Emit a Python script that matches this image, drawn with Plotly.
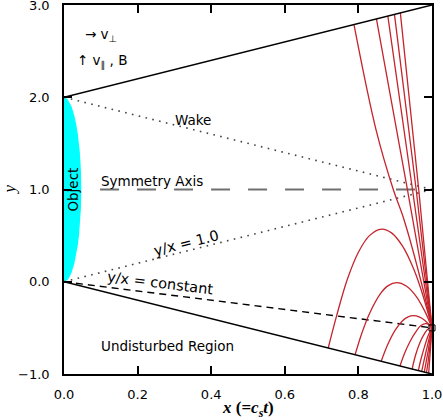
import plotly.graph_objects as go

# ---- reference lines (data coordinates) ----
upper_x = [0.0, 1.0]; upper_y = [2.0, 3.0]          # upper boundary
lower_x = [0.0, 1.0]; lower_y = [0.0, -1.0]         # lower boundary
wake_x = [0.0, 1.0]; wake_y = [2.0, 1.0]            # wake (dotted)
diag_x = [0.0, 1.0]; diag_y = [0.0, 1.0]            # y/x = 1.0 (dotted)
sym_x = [0.098, 1.0]; sym_y = [1.0, 1.0]            # symmetry axis
const_x = [0.0, 1.0]; const_y = [0.0, -0.5]         # y/x = constant
focus_x = [1.0]; focus_y = [-0.5]

# ---- object outline ----
object_y = [0.0, 0.02, 0.05, 0.1, 0.2, 0.3, 0.4, 0.5, 0.6, 0.8, 1.0,
            1.2, 1.4, 1.5, 1.6, 1.7, 1.8, 1.9, 1.95, 1.98, 2.0]
object_x = [0.0, 0.0094, 0.0147, 0.0205, 0.0282, 0.0336, 0.0376, 0.0407, 0.0431, 0.0461, 0.047,
            0.0461, 0.0431, 0.0407, 0.0376, 0.0336, 0.0282, 0.0205, 0.0147, 0.0094, 0.0]

# ---- trajectories from the upper boundary ----
u1_x = [0.788, 0.848, 0.895, 0.924, 0.976, 1.0]
u1_y = [2.788, 1.647, 0.997, 0.672, -0.087, -0.5]
u2_x = [0.849, 0.933, 1.0]; u2_y = [2.849, 1.003, -0.5]
u3_x = [0.880, 0.947, 1.0]; u3_y = [2.880, 0.997, -0.5]
u4_x = [0.898, 0.957, 1.0]; u4_y = [2.898, 0.997, -0.5]
u5_x = [0.914, 0.964, 1.0]; u5_y = [2.914, 0.997, -0.5]

# ---- trajectories from the lower boundary ----
a1_x = [0.718, 0.74, 0.77, 0.80, 0.83, 0.863, 0.89, 0.92, 0.95, 0.975, 1.0]
a1_y = [-0.718, -0.38, 0.027, 0.32, 0.50, 0.571, 0.53, 0.386, 0.14, -0.144, -0.5]
a2_x = [0.791, 0.81, 0.83, 0.86, 0.88, 0.904, 0.93, 0.955, 0.98, 1.0]
a2_y = [-0.791, -0.55, -0.346, -0.129, -0.045, -0.01, -0.046, -0.148, -0.316, -0.5]
a3_x = [0.862, 0.88, 0.90, 0.92, 0.935, 0.95, 0.965, 0.98, 1.0]
a3_y = [-0.862, -0.678, -0.524, -0.423, -0.381, -0.368, -0.381, -0.417, -0.5]
a4_x = [0.913, 0.925, 0.94, 0.955, 0.97, 0.985, 1.0]
a4_y = [-0.913, -0.78, -0.65, -0.55, -0.475, -0.455, -0.5]
a5_x = [0.946, 0.955, 0.967, 0.98, 0.99, 1.0]
a5_y = [-0.946, -0.80, -0.66, -0.56, -0.51, -0.5]
a6_x = [0.963, 0.97, 0.98, 0.99, 1.0]; a6_y = [-0.963, -0.84, -0.70, -0.58, -0.5]
a7_x = [0.972, 0.978, 0.986, 0.993, 1.0]; a7_y = [-0.972, -0.86, -0.72, -0.60, -0.5]
a8_x = [0.979, 0.984, 0.99, 0.995, 1.0]; a8_y = [-0.979, -0.87, -0.74, -0.61, -0.5]
a9_x = [0.985, 0.989, 0.993, 0.997, 1.0]; a9_y = [-0.985, -0.88, -0.75, -0.62, -0.5]
a10_x = [0.991, 0.994, 0.997, 1.0]; a10_y = [-0.991, -0.83, -0.66, -0.5]

x_ticks = [0.0, 0.2, 0.4, 0.6, 0.8, 1.0]
x_ticktext = ["0.0", "0.2", "0.4", "0.6", "0.8", "1.0"]
y_ticks = [-1.0, 0.0, 1.0, 2.0, 3.0]
y_ticktext = ["\u22121.0", "0.0", "1.0", "2.0", "3.0"]

RED = "#c4242c"
SANS = "DejaVu Sans"
SERIF = "Liberation Serif"

fig = go.Figure()

fig.add_trace(go.Scatter(x=object_x, y=object_y, fill="toself", fillcolor="#00ffff",
                         mode="lines", line=dict(width=0, color="#00ffff"), hoverinfo="skip"))

fig.add_trace(go.Scatter(x=wake_x, y=wake_y, mode="lines",
                         line=dict(color="#444444", width=1.6, dash="1.6px,5.4px")))
fig.add_trace(go.Scatter(x=diag_x, y=diag_y, mode="lines",
                         line=dict(color="#444444", width=1.6, dash="1.6px,5.4px")))
fig.add_trace(go.Scatter(x=sym_x, y=sym_y, mode="lines",
                         line=dict(color="#707070", width=2, dash="19px,18px")))
fig.add_trace(go.Scatter(x=const_x, y=const_y, mode="lines",
                         line=dict(color="black", width=1.4, dash="7px,5px")))

for cx, cy in [(u1_x, u1_y), (u2_x, u2_y), (u3_x, u3_y), (u4_x, u4_y), (u5_x, u5_y),
               (a1_x, a1_y), (a2_x, a2_y), (a3_x, a3_y), (a4_x, a4_y), (a5_x, a5_y),
               (a6_x, a6_y), (a7_x, a7_y), (a8_x, a8_y), (a9_x, a9_y), (a10_x, a10_y)]:
    fig.add_trace(go.Scatter(x=cx, y=cy, mode="lines",
                             line=dict(color=RED, width=1.3, shape="spline", smoothing=1.0)))

fig.add_trace(go.Scatter(x=upper_x, y=upper_y, mode="lines", line=dict(color="black", width=1.5)))
fig.add_trace(go.Scatter(x=lower_x, y=lower_y, mode="lines", line=dict(color="black", width=1.5)))
fig.add_trace(go.Scatter(x=focus_x, y=focus_y, mode="markers", cliponaxis=False,
                         marker=dict(symbol="square-open", size=6, color="black",
                                     line=dict(width=1, color="black"))))

def note(text, x, y, angle=0, size=13.5, font=SANS, xref="x", yref="y"):
    fig.add_annotation(text=text, x=x, y=y, xref=xref, yref=yref, showarrow=False,
                       textangle=angle, xanchor="center", yanchor="middle",
                       font=dict(family=font, size=size, color="black"))

note("Object", 0.022, 1.0, angle=-90)
note("Wake", 0.351, 1.75)
note("Symmetry Axis", 0.240, 1.094)
note("y/x = 1.0", 0.332, 0.42, angle=-14, size=14.5)
note("y/x = constant", 0.261, -0.01, angle=7, size=14.5)
note("Undisturbed Region", 0.28, -0.70)
note("\u2192 v<sub>\u22a5</sub>", 0.1005, 2.68)
note("\u2191 v<sub>\u2225</sub> , B", 0.103, 2.39)
note("<b><i>x</i> (=<i>c<sub>s</sub>t</i>)</b>", 0.5, -0.095, size=17, font=SERIF, xref="paper", yref="paper")
note("<i>y</i>", -0.147, 0.5, angle=-90, size=17, font=SERIF, xref="paper", yref="paper")

axis_common = dict(showgrid=False, zeroline=False, showline=True, linecolor="black",
                   linewidth=1.5, ticks="inside", ticklen=8, tickcolor="black", tickwidth=1.5,
                   mirror="ticks", ticklabeloverflow="allow",
                   tickfont=dict(family=SANS, size=13, color="black"))

fig.update_xaxes(range=[0, 1], tickvals=x_ticks, ticktext=x_ticktext,
                 ticklabelstandoff=8, **axis_common)
fig.update_yaxes(range=[-1, 3], tickvals=y_ticks, ticktext=y_ticktext,
                 ticklabelstandoff=10, **axis_common)

fig.update_layout(width=443, height=420, margin=dict(l=64, r=11, t=5, b=46, autoexpand=False),
                  plot_bgcolor="white", paper_bgcolor="white", showlegend=False)

fig.write_html("out.html", config={"displayModeBar": False},
               post_script="document.body.style.margin='0';document.body.style.padding='0';")
